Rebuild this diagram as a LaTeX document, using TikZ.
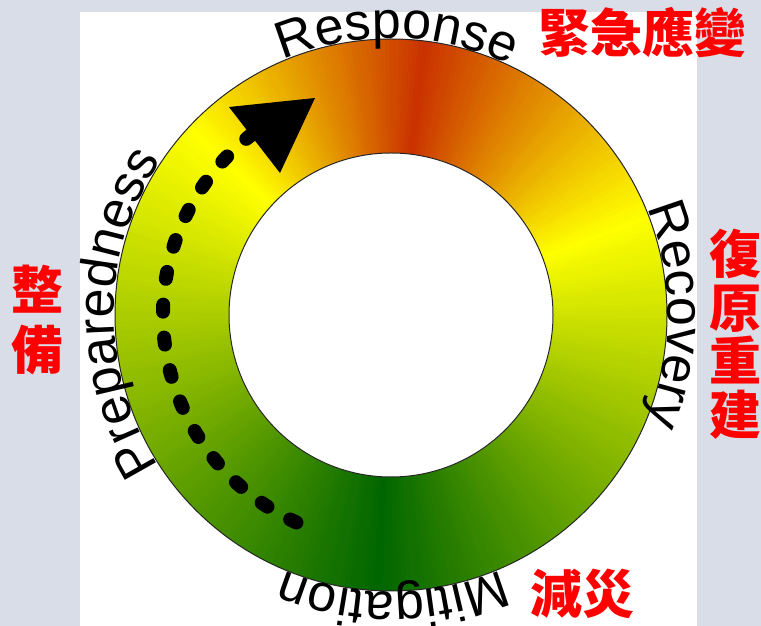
\documentclass[tikz,border=0pt]{standalone}
\usepackage{fontspec}
\setmainfont{Liberation Sans}
\newfontfamily\cjk{Noto Sans CJK TC}
\usetikzlibrary{decorations.text}

\definecolor{bgblue}{RGB}{216,221,231}
\definecolor{ringred}{RGB}{202,50,0}
\definecolor{ringyellow}{RGB}{255,255,0}
\definecolor{ringgreen}{RGB}{0,102,0}
\definecolor{cjkred}{RGB}{255,0,0}

\newcommand\ringfont{\fontsize{52}{60}\selectfont}
%% one coloured band of the ring, from angle #1 to #2, colour #3 to #4
\newcommand\ringseg[4]{%
  \foreach \ang in {#1,...,#2}{%
    \pgfmathtruncatemacro\pct{100*(\ang-(#1))/((#2)-(#1))}
    \fill[#4!\pct!#3] (0,0) -- (\ang-0.7:276) arc (\ang-0.7:\ang+0.7:276) -- cycle;
  }}

\tikzset{
  ringlabel/.style={decorate, decoration={text along path, text align=center, text={|\ringfont|#1}}},
  cjklabel/.style={text=cjkred, font=\cjk\bfseries\fontsize{52}{53.5}\selectfont, align=center, inner sep=0pt},
}

\begin{document}
\begin{tikzpicture}[x=1pt,y=1pt]
    \useasboundingbox (0,0) rectangle (761,626);
    \fill[bgblue] (0,0) rectangle (761,626);
    \fill[white] (80,0) rectangle (697,614);
    \begin{scope}[shift={(391,311)}]
        %% Ring
        \ringseg{-93}{21}{ringgreen}{ringyellow}
        \ringseg{21}{83}{ringyellow}{ringred}
        \ringseg{83}{137}{ringred}{ringyellow}
        \ringseg{137}{267}{ringyellow}{ringgreen}
        \draw[black!85,line width=1] (0,0) circle (276);
        \draw[black!85,line width=1,fill=white] (0,0) circle (162);
        %% Labels
        \path[ringlabel=Response] (118.8:277) arc (118.8:58.8:277);
        \path[ringlabel=Recovery] (40:277) arc (40:-40:277);
        \path[ringlabel=Mitigation] (-49.6:277) arc (-49.6:-129.6:277);
        \path[ringlabel=Preparedness] (224.5:277) arc (224.5:134.5:277);
        %% Cycle arrow
        \draw[line width=14,line cap=round,dash pattern=on 7 off 26] (245.5:228) arc (245.5:127.6:228);
    \end{scope}
    \fill (315,528) -- (229,519) -- (280,453) -- cycle;
    \node[cjklabel] (response) at (642,593) {緊急應變};
    \node[cjklabel] (recovery) at (735,292) {復\\原\\重\\建};
    \node[cjklabel,font=\cjk\bfseries\fontsize{52}{60}\selectfont] (prepare) at (37,306) {整\\備};
    \node[cjklabel] (mitigate) at (582,32) {減災};
\end{tikzpicture}
\end{document}
